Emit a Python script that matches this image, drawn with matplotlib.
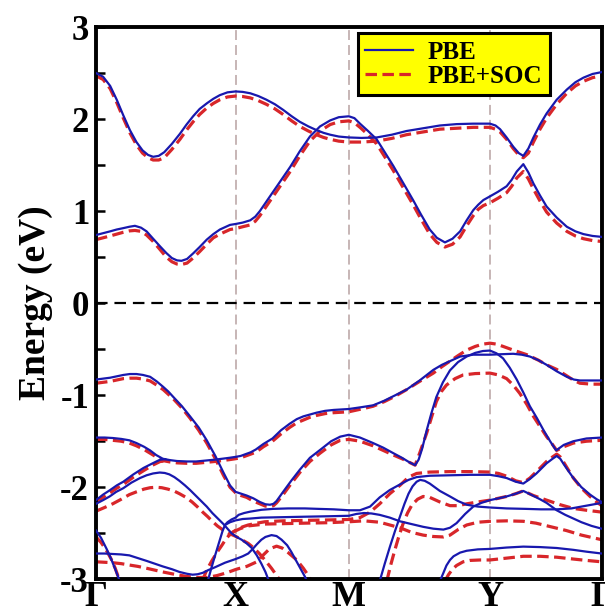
import matplotlib
matplotlib.use("Agg")
import matplotlib.pyplot as plt
from matplotlib.lines import Line2D
from matplotlib.ticker import MultipleLocator

plt.rcParams['font.family'] = ['Liberation Serif', 'DejaVu Serif']
plt.rcParams['font.weight'] = 'bold'
plt.rcParams['axes.unicode_minus'] = False

# ---------------- data ----------------
kpath_pos = [0.0, 0.276, 0.500, 0.779, 1.0]
kpath_labels = ['Γ', 'X', 'M', 'Y', 'Γ']
energy_ticks = [-3, -2, -1, 0, 1, 2, 3]
legend_labels = ['PBE', 'PBE+SOC']

# conduction bands (k, E)
cA_pbe = [(0.000, 2.50), (0.014, 2.46), (0.028, 2.36), (0.041, 2.21), (0.054, 2.04), (0.067, 1.88),
          (0.080, 1.75), (0.092, 1.66), (0.103, 1.61), (0.113, 1.59), (0.124, 1.60), (0.135, 1.64),
          (0.150, 1.73), (0.166, 1.84), (0.179, 1.94), (0.192, 2.03), (0.205, 2.11), (0.219, 2.17),
          (0.232, 2.22), (0.245, 2.26), (0.260, 2.29), (0.276, 2.30), (0.290, 2.295), (0.305, 2.28),
          (0.321, 2.25), (0.337, 2.21), (0.354, 2.16), (0.370, 2.10), (0.387, 2.03), (0.403, 1.97),
          (0.420, 1.92), (0.436, 1.88), (0.450, 1.85), (0.463, 1.83), (0.480, 1.81), (0.500, 1.80),
          (0.525, 1.795), (0.555, 1.80), (0.585, 1.83), (0.614, 1.87), (0.647, 1.90), (0.680, 1.93),
          (0.713, 1.945), (0.746, 1.95), (0.765, 1.95), (0.779, 1.95), (0.790, 1.93), (0.799, 1.89),
          (0.812, 1.80), (0.825, 1.70), (0.836, 1.63), (0.845, 1.60), (0.855, 1.68), (0.865, 1.80),
          (0.878, 1.94), (0.891, 2.06), (0.911, 2.21), (0.931, 2.32), (0.948, 2.40), (0.964, 2.45),
          (0.982, 2.49), (1.000, 2.51)]
cA_soc = [(0.000, 2.47), (0.014, 2.43), (0.028, 2.33), (0.041, 2.18), (0.054, 2.01), (0.067, 1.85),
          (0.080, 1.72), (0.092, 1.63), (0.103, 1.58), (0.113, 1.555), (0.124, 1.555), (0.135, 1.58),
          (0.150, 1.67), (0.166, 1.78), (0.179, 1.88), (0.192, 1.97), (0.205, 2.05), (0.219, 2.12),
          (0.232, 2.17), (0.245, 2.21), (0.260, 2.24), (0.276, 2.25), (0.290, 2.245), (0.305, 2.23),
          (0.321, 2.20), (0.337, 2.16), (0.354, 2.11), (0.370, 2.05), (0.387, 1.98), (0.403, 1.92),
          (0.420, 1.87), (0.436, 1.83), (0.450, 1.80), (0.463, 1.78), (0.480, 1.76), (0.500, 1.75),
          (0.525, 1.75), (0.555, 1.76), (0.585, 1.79), (0.614, 1.83), (0.647, 1.86), (0.680, 1.89),
          (0.713, 1.90), (0.746, 1.91), (0.765, 1.91), (0.779, 1.91), (0.790, 1.89), (0.799, 1.86),
          (0.812, 1.78), (0.825, 1.68), (0.836, 1.61), (0.845, 1.58), (0.855, 1.63), (0.865, 1.75),
          (0.878, 1.89), (0.891, 2.01), (0.911, 2.16), (0.931, 2.28), (0.948, 2.36), (0.964, 2.41),
          (0.982, 2.45), (1.000, 2.47)]
cB_pbe = [(0.000, 0.74), (0.014, 0.76), (0.028, 0.78), (0.041, 0.80), (0.054, 0.815), (0.066, 0.83),
          (0.077, 0.84), (0.089, 0.82), (0.100, 0.78), (0.113, 0.70), (0.127, 0.615), (0.139, 0.545),
          (0.150, 0.49), (0.160, 0.465), (0.169, 0.46), (0.180, 0.48), (0.192, 0.54), (0.205, 0.61),
          (0.219, 0.69), (0.232, 0.75), (0.245, 0.80), (0.265, 0.85), (0.276, 0.86), (0.290, 0.875),
          (0.305, 0.90), (0.315, 0.94), (0.324, 1.00), (0.334, 1.08), (0.344, 1.16), (0.364, 1.32),
          (0.384, 1.48), (0.403, 1.65), (0.423, 1.81), (0.443, 1.92), (0.463, 1.985), (0.480, 2.02),
          (0.500, 2.03), (0.511, 2.01), (0.522, 1.95), (0.538, 1.87), (0.555, 1.78), (0.571, 1.64),
          (0.588, 1.49), (0.607, 1.31), (0.627, 1.12), (0.643, 0.96), (0.660, 0.80), (0.674, 0.71),
          (0.690, 0.66), (0.705, 0.70), (0.720, 0.78), (0.733, 0.90), (0.746, 1.01), (0.756, 1.07),
          (0.766, 1.12), (0.779, 1.16), (0.795, 1.21), (0.812, 1.27), (0.822, 1.34), (0.832, 1.43),
          (0.845, 1.51), (0.855, 1.42), (0.865, 1.30), (0.878, 1.17), (0.891, 1.05), (0.911, 0.93),
          (0.931, 0.83), (0.948, 0.78), (0.964, 0.75), (0.982, 0.73), (1.000, 0.72)]
cB_soc = [(0.000, 0.69), (0.014, 0.71), (0.028, 0.73), (0.041, 0.75), (0.054, 0.77), (0.066, 0.785),
          (0.077, 0.79), (0.089, 0.78), (0.100, 0.74), (0.113, 0.67), (0.127, 0.58), (0.139, 0.50),
          (0.150, 0.45), (0.160, 0.425), (0.169, 0.42), (0.180, 0.435), (0.192, 0.49), (0.205, 0.56),
          (0.219, 0.64), (0.232, 0.71), (0.245, 0.75), (0.265, 0.80), (0.276, 0.81), (0.290, 0.83),
          (0.305, 0.85), (0.315, 0.89), (0.324, 0.95), (0.334, 1.03), (0.344, 1.11), (0.364, 1.27),
          (0.384, 1.43), (0.403, 1.60), (0.423, 1.76), (0.443, 1.87), (0.463, 1.94), (0.480, 1.97),
          (0.500, 1.98), (0.511, 1.96), (0.522, 1.91), (0.538, 1.83), (0.555, 1.73), (0.571, 1.59),
          (0.588, 1.44), (0.607, 1.26), (0.627, 1.07), (0.643, 0.91), (0.660, 0.75), (0.674, 0.66),
          (0.690, 0.61), (0.705, 0.64), (0.720, 0.72), (0.733, 0.84), (0.746, 0.95), (0.756, 1.02),
          (0.766, 1.06), (0.779, 1.09), (0.795, 1.14), (0.812, 1.20), (0.822, 1.27), (0.832, 1.36),
          (0.845, 1.43), (0.855, 1.35), (0.865, 1.24), (0.878, 1.11), (0.891, 0.99), (0.911, 0.87),
          (0.931, 0.78), (0.948, 0.73), (0.964, 0.70), (0.982, 0.68), (1.000, 0.67)]

# valence bands (k, E)
v1_pbe = [(0.000, -0.83), (0.014, -0.82), (0.028, -0.81), (0.041, -0.795), (0.054, -0.78), (0.067, -0.77),
          (0.080, -0.77), (0.093, -0.78), (0.107, -0.80), (0.120, -0.85), (0.133, -0.91), (0.143, -0.96),
          (0.153, -1.02), (0.170, -1.12), (0.186, -1.23), (0.203, -1.35), (0.219, -1.49), (0.236, -1.66),
          (0.252, -1.84), (0.265, -1.98), (0.276, -2.05), (0.287, -2.07), (0.298, -2.09), (0.311, -2.12),
          (0.324, -2.16), (0.335, -2.185), (0.344, -2.19), (0.351, -2.18), (0.357, -2.15), (0.370, -2.05),
          (0.386, -1.93), (0.403, -1.81), (0.423, -1.68), (0.443, -1.595), (0.465, -1.50), (0.483, -1.45),
          (0.500, -1.43), (0.522, -1.46), (0.548, -1.52), (0.568, -1.57), (0.588, -1.63), (0.605, -1.68),
          (0.620, -1.73), (0.631, -1.76), (0.638, -1.70), (0.645, -1.58), (0.654, -1.38), (0.663, -1.20),
          (0.673, -1.02), (0.686, -0.86), (0.700, -0.73), (0.716, -0.64), (0.733, -0.58), (0.750, -0.54),
          (0.765, -0.52), (0.779, -0.515), (0.792, -0.545), (0.805, -0.60), (0.818, -0.70), (0.832, -0.83),
          (0.845, -0.97), (0.858, -1.12), (0.872, -1.25), (0.885, -1.38), (0.898, -1.50), (0.910, -1.60),
          (0.925, -1.54), (0.944, -1.50), (0.970, -1.47), (1.000, -1.46)]
v1_soc = [(0.000, -0.87), (0.014, -0.86), (0.028, -0.85), (0.041, -0.835), (0.054, -0.82), (0.067, -0.815),
          (0.080, -0.815), (0.093, -0.825), (0.107, -0.845), (0.120, -0.89), (0.133, -0.94), (0.143, -0.99),
          (0.153, -1.04), (0.170, -1.14), (0.186, -1.25), (0.203, -1.38), (0.219, -1.52), (0.236, -1.69),
          (0.252, -1.87), (0.265, -2.00), (0.276, -2.06), (0.287, -2.09), (0.298, -2.11), (0.311, -2.15),
          (0.324, -2.18), (0.335, -2.205), (0.344, -2.21), (0.351, -2.20), (0.357, -2.17), (0.370, -2.08),
          (0.386, -1.96), (0.403, -1.84), (0.423, -1.72), (0.443, -1.63), (0.465, -1.54), (0.483, -1.49),
          (0.500, -1.48), (0.522, -1.50), (0.548, -1.55), (0.568, -1.60), (0.588, -1.65), (0.605, -1.69),
          (0.620, -1.73), (0.631, -1.76), (0.640, -1.63), (0.654, -1.41), (0.673, -1.07), (0.683, -0.96),
          (0.693, -0.89), (0.710, -0.82), (0.726, -0.78), (0.750, -0.765), (0.779, -0.76), (0.796, -0.78),
          (0.812, -0.82), (0.825, -0.89), (0.838, -0.98), (0.852, -1.10), (0.865, -1.23), (0.878, -1.34),
          (0.891, -1.45), (0.902, -1.53), (0.911, -1.60), (0.925, -1.56), (0.944, -1.52), (0.970, -1.50),
          (1.000, -1.49)]
v2_pbe = [(0.000, -1.46), (0.017, -1.46), (0.033, -1.465), (0.050, -1.475), (0.066, -1.49), (0.080, -1.52),
          (0.095, -1.56), (0.107, -1.60), (0.119, -1.65), (0.132, -1.69), (0.146, -1.705), (0.160, -1.715),
          (0.180, -1.72), (0.198, -1.72), (0.217, -1.71), (0.235, -1.70), (0.250, -1.69), (0.264, -1.68),
          (0.276, -1.67), (0.286, -1.66), (0.296, -1.64), (0.306, -1.62), (0.316, -1.59), (0.331, -1.53),
          (0.349, -1.47), (0.366, -1.38), (0.383, -1.31), (0.397, -1.26), (0.410, -1.23), (0.423, -1.21),
          (0.436, -1.19), (0.453, -1.17), (0.470, -1.16), (0.485, -1.155), (0.500, -1.15), (0.525, -1.13),
          (0.548, -1.11), (0.570, -1.06), (0.592, -1.00), (0.614, -0.94), (0.640, -0.84), (0.667, -0.725),
          (0.684, -0.67), (0.700, -0.63), (0.720, -0.58), (0.746, -0.56), (0.779, -0.56), (0.800, -0.555),
          (0.825, -0.55), (0.842, -0.56), (0.858, -0.58), (0.875, -0.62), (0.891, -0.67), (0.911, -0.74),
          (0.931, -0.80), (0.945, -0.83), (0.957, -0.84), (0.980, -0.84), (1.000, -0.84)]
v2_soc = [(0.000, -1.48), (0.017, -1.48), (0.033, -1.49), (0.050, -1.50), (0.066, -1.52), (0.080, -1.55),
          (0.095, -1.59), (0.107, -1.63), (0.119, -1.67), (0.132, -1.71), (0.146, -1.725), (0.160, -1.735),
          (0.180, -1.74), (0.198, -1.74), (0.217, -1.73), (0.235, -1.72), (0.250, -1.71), (0.264, -1.70),
          (0.276, -1.69), (0.286, -1.68), (0.296, -1.66), (0.306, -1.64), (0.316, -1.62), (0.331, -1.56),
          (0.349, -1.50), (0.366, -1.42), (0.383, -1.35), (0.397, -1.30), (0.410, -1.27), (0.423, -1.24),
          (0.436, -1.22), (0.453, -1.20), (0.470, -1.19), (0.485, -1.185), (0.500, -1.18), (0.525, -1.15),
          (0.548, -1.12), (0.570, -1.07), (0.592, -1.01), (0.614, -0.94), (0.640, -0.85), (0.667, -0.76),
          (0.684, -0.69), (0.700, -0.63), (0.716, -0.57), (0.733, -0.51), (0.750, -0.47), (0.765, -0.445),
          (0.779, -0.435), (0.792, -0.445), (0.805, -0.47), (0.825, -0.51), (0.852, -0.56), (0.875, -0.62),
          (0.891, -0.67), (0.911, -0.72), (0.931, -0.79), (0.945, -0.84), (0.957, -0.87), (0.980, -0.88),
          (1.000, -0.88)]
s1_pbe = [(0.000, -2.14), (0.014, -2.08), (0.028, -2.03), (0.041, -1.98), (0.054, -1.94), (0.074, -1.86),
          (0.094, -1.79), (0.112, -1.74), (0.127, -1.70), (0.137, -1.695)]
s1_soc = [(0.000, -2.16), (0.014, -2.11), (0.028, -2.06), (0.041, -2.01), (0.054, -1.97), (0.074, -1.89),
          (0.094, -1.82), (0.112, -1.76), (0.127, -1.72), (0.137, -1.715)]
v4_pbe = [(0.000, -2.18), (0.014, -2.14), (0.027, -2.10), (0.040, -2.05), (0.054, -2.01), (0.070, -1.95),
          (0.087, -1.90), (0.100, -1.87), (0.113, -1.85), (0.126, -1.84), (0.136, -1.845), (0.145, -1.86),
          (0.155, -1.89), (0.165, -1.93), (0.176, -1.98), (0.186, -2.03), (0.197, -2.09), (0.208, -2.15),
          (0.219, -2.21), (0.230, -2.28), (0.241, -2.34), (0.252, -2.40), (0.260, -2.45), (0.268, -2.50),
          (0.278, -2.54), (0.288, -2.57), (0.298, -2.61), (0.308, -2.66), (0.318, -2.74), (0.327, -2.83),
          (0.335, -2.92), (0.342, -3.02)]
v4_soc = [(0.000, -2.26), (0.017, -2.22), (0.033, -2.18), (0.050, -2.13), (0.066, -2.08), (0.080, -2.05),
          (0.095, -2.02), (0.107, -2.005), (0.119, -2.00), (0.130, -2.005), (0.142, -2.02), (0.154, -2.04),
          (0.165, -2.07), (0.178, -2.11), (0.190, -2.16), (0.200, -2.21), (0.211, -2.27), (0.221, -2.32),
          (0.230, -2.37), (0.240, -2.42), (0.250, -2.46), (0.262, -2.50), (0.275, -2.53), (0.288, -2.57),
          (0.301, -2.61), (0.312, -2.66), (0.323, -2.72), (0.334, -2.79), (0.347, -2.88), (0.360, -2.98),
          (0.363, -3.02)]
r1_pbe = [(0.221, -3.02), (0.228, -2.88), (0.235, -2.75), (0.240, -2.66), (0.245, -2.57), (0.250, -2.48),
          (0.255, -2.41), (0.260, -2.38), (0.268, -2.35), (0.276, -2.33), (0.282, -2.30), (0.293, -2.28),
          (0.305, -2.265), (0.327, -2.245), (0.350, -2.235), (0.380, -2.23), (0.413, -2.23), (0.440, -2.235),
          (0.470, -2.24), (0.500, -2.25), (0.522, -2.25), (0.542, -2.21), (0.561, -2.11), (0.581, -2.03),
          (0.601, -1.97), (0.618, -1.92), (0.634, -1.89), (0.660, -1.875), (0.700, -1.87), (0.740, -1.865),
          (0.779, -1.865), (0.796, -1.88), (0.812, -1.90), (0.830, -1.94), (0.845, -1.96), (0.858, -1.91),
          (0.871, -1.85), (0.891, -1.74), (0.903, -1.69), (0.911, -1.66), (0.918, -1.69), (0.925, -1.75),
          (0.935, -1.83), (0.944, -1.90), (0.960, -2.00), (0.977, -2.08), (0.990, -2.13), (1.000, -2.16)]
r1_soc = [(0.210, -3.02), (0.219, -2.90), (0.229, -2.80), (0.239, -2.71), (0.249, -2.63), (0.256, -2.57),
          (0.262, -2.53), (0.270, -2.49), (0.278, -2.46), (0.290, -2.43), (0.301, -2.41), (0.318, -2.39),
          (0.334, -2.375), (0.370, -2.365), (0.413, -2.36), (0.460, -2.355), (0.500, -2.35), (0.522, -2.33),
          (0.542, -2.27), (0.561, -2.18), (0.581, -2.07), (0.601, -1.98), (0.618, -1.89), (0.634, -1.85),
          (0.660, -1.835), (0.700, -1.83), (0.740, -1.83), (0.779, -1.835), (0.796, -1.85), (0.812, -1.88),
          (0.830, -1.93), (0.845, -1.95), (0.858, -1.90), (0.871, -1.83), (0.891, -1.72), (0.903, -1.67),
          (0.911, -1.64), (0.918, -1.67), (0.925, -1.73), (0.935, -1.82), (0.944, -1.90), (0.960, -2.01),
          (0.977, -2.10), (0.990, -2.16), (1.000, -2.20)]
f2_pbe = [(0.255, -2.41), (0.265, -2.38), (0.276, -2.36), (0.290, -2.345), (0.305, -2.34), (0.327, -2.33),
          (0.370, -2.325), (0.413, -2.32), (0.460, -2.315), (0.500, -2.31), (0.515, -2.29), (0.530, -2.28),
          (0.545, -2.285), (0.561, -2.30), (0.581, -2.33), (0.601, -2.37), (0.624, -2.40), (0.647, -2.43),
          (0.667, -2.45), (0.687, -2.46), (0.700, -2.44), (0.713, -2.39), (0.730, -2.29), (0.746, -2.21),
          (0.762, -2.17), (0.779, -2.14), (0.796, -2.12), (0.812, -2.10), (0.830, -2.07), (0.845, -2.04),
          (0.860, -2.08), (0.878, -2.13), (0.891, -2.17), (0.911, -2.25), (0.928, -2.30), (0.944, -2.34),
          (0.960, -2.38), (0.980, -2.42), (1.000, -2.45)]
f2_soc = [(0.270, -2.49), (0.285, -2.45), (0.301, -2.42), (0.334, -2.40), (0.413, -2.39), (0.460, -2.385),
          (0.500, -2.375), (0.530, -2.365), (0.561, -2.38), (0.581, -2.41), (0.601, -2.44), (0.624, -2.49),
          (0.647, -2.52), (0.667, -2.535), (0.687, -2.54), (0.700, -2.52), (0.716, -2.46), (0.733, -2.41),
          (0.755, -2.38), (0.779, -2.37), (0.812, -2.365), (0.845, -2.37), (0.870, -2.39), (0.900, -2.43),
          (0.930, -2.47), (0.960, -2.52), (1.000, -2.57)]
l3_pbe = [(0.561, -3.02), (0.571, -2.83), (0.581, -2.65), (0.591, -2.48), (0.601, -2.32), (0.610, -2.18),
          (0.618, -2.07), (0.626, -1.99), (0.634, -1.94), (0.641, -1.92), (0.650, -1.93), (0.660, -1.96),
          (0.670, -2.00), (0.680, -2.04), (0.690, -2.07), (0.700, -2.10), (0.716, -2.15), (0.733, -2.19),
          (0.755, -2.21), (0.779, -2.22), (0.812, -2.23), (0.850, -2.235), (0.880, -2.24), (0.911, -2.24),
          (0.940, -2.23), (0.970, -2.20), (1.000, -2.17)]
l3_soc = [(0.575, -3.02), (0.583, -2.84), (0.590, -2.70), (0.598, -2.55), (0.607, -2.40), (0.616, -2.28),
          (0.625, -2.19), (0.636, -2.13), (0.647, -2.10), (0.660, -2.11), (0.680, -2.16), (0.700, -2.20),
          (0.716, -2.20), (0.733, -2.18), (0.755, -2.16), (0.779, -2.14), (0.812, -2.10), (0.830, -2.07),
          (0.845, -2.04), (0.865, -2.09), (0.891, -2.14), (0.918, -2.19), (0.944, -2.23), (0.970, -2.25),
          (1.000, -2.27)]
l4_pbe = [(0.680, -3.02), (0.687, -2.93), (0.693, -2.85), (0.700, -2.79), (0.707, -2.75), (0.720, -2.71),
          (0.733, -2.69), (0.755, -2.675), (0.779, -2.67), (0.812, -2.655), (0.845, -2.645), (0.878, -2.65),
          (0.911, -2.66), (0.944, -2.68), (0.970, -2.70), (1.000, -2.72)]
l4_soc = [(0.690, -3.02), (0.697, -2.95), (0.705, -2.89), (0.713, -2.85), (0.726, -2.81), (0.739, -2.795),
          (0.760, -2.79), (0.779, -2.79), (0.812, -2.77), (0.845, -2.75), (0.878, -2.75), (0.911, -2.76),
          (0.944, -2.78), (0.970, -2.795), (1.000, -2.81)]
g1_pbe = [(0.000, -2.47), (0.010, -2.55), (0.021, -2.67), (0.030, -2.78), (0.038, -2.89), (0.047, -3.02)]
g1_soc = [(0.000, -2.54), (0.010, -2.60), (0.020, -2.68), (0.030, -2.78), (0.038, -2.88), (0.047, -3.02)]
l5_pbe = [(0.000, -2.72), (0.017, -2.72), (0.033, -2.725), (0.050, -2.73), (0.066, -2.74), (0.083, -2.77),
          (0.100, -2.80), (0.116, -2.83), (0.132, -2.86), (0.150, -2.89), (0.165, -2.92), (0.180, -2.94),
          (0.191, -2.95), (0.201, -2.945), (0.211, -2.93), (0.222, -2.90), (0.235, -2.87), (0.255, -2.82),
          (0.276, -2.78), (0.290, -2.75), (0.301, -2.72), (0.310, -2.67), (0.318, -2.62), (0.327, -2.57),
          (0.335, -2.54), (0.347, -2.52), (0.357, -2.53), (0.367, -2.57), (0.378, -2.63), (0.386, -2.70),
          (0.393, -2.77), (0.403, -2.87), (0.413, -2.97), (0.417, -3.02)]
l5_soc = [(0.000, -2.81), (0.017, -2.815), (0.033, -2.82), (0.050, -2.83), (0.066, -2.845), (0.083, -2.86),
          (0.100, -2.88), (0.116, -2.90), (0.132, -2.92), (0.150, -2.94), (0.165, -2.955), (0.180, -2.97),
          (0.200, -2.98), (0.220, -2.98), (0.239, -2.96), (0.258, -2.93), (0.278, -2.89), (0.298, -2.86),
          (0.318, -2.81), (0.330, -2.74), (0.343, -2.67), (0.357, -2.64), (0.368, -2.66), (0.380, -2.71),
          (0.397, -2.79), (0.410, -2.88), (0.420, -2.96), (0.426, -3.02)]

pbe_bands = [cA_pbe, cB_pbe, v1_pbe, v2_pbe, s1_pbe, v4_pbe, r1_pbe, f2_pbe, l3_pbe, l4_pbe, g1_pbe, l5_pbe]
soc_bands = [cA_soc, cB_soc, v1_soc, v2_soc, s1_soc, v4_soc, r1_soc, f2_soc, l3_soc, l4_soc, g1_soc, l5_soc]

# ---------------- style ----------------
BLUE = '#1818ae'
RED = '#d8262a'
SOC_DASH = (3.6, 1.7)

fig = plt.figure(figsize=(6.05, 6.06), dpi=100)
ax = fig.add_axes([96 / 605, 26.7 / 606, 505.7 / 605, 552.3 / 606])

for x in kpath_pos[1:-1]:
    ax.axvline(x, color='#b8a2a2', lw=1.1, dashes=(6.5, 3.3), zorder=1)
ax.axhline(0, color='black', lw=1.6, dashes=(5.2, 3.1), zorder=1)

for band in soc_bands:
    k, e = zip(*band)
    ax.plot(k, e, color=RED, lw=2.3, dashes=SOC_DASH, dash_capstyle='butt', zorder=2)
for band in pbe_bands:
    k, e = zip(*band)
    ax.plot(k, e, color=BLUE, lw=1.6, solid_joinstyle='round', zorder=3)

ax.set_xlim(kpath_pos[0], kpath_pos[-1])
ax.set_ylim(-3, 3)
ax.set_xticks(kpath_pos)
ax.set_xticklabels(kpath_labels, fontsize=26, fontweight='bold')
ax.tick_params(axis='x', length=0, pad=1)
ax.set_yticks(energy_ticks)
ax.set_yticklabels([str(t) for t in energy_ticks], fontsize=25, fontweight='bold')
ax.yaxis.set_minor_locator(MultipleLocator(0.5))
ax.tick_params(axis='y', which='both', direction='in', length=6.5, width=1.8, pad=5, right=False)
for s in ax.spines.values():
    s.set_linewidth(2.8)

ax.set_ylabel('Energy (eV)', fontsize=27, fontweight='bold')
ax.yaxis.set_label_coords(-0.085, 0.5)

handles = [Line2D([], [], color=BLUE, lw=1.6),
           Line2D([], [], color=RED, lw=2.3, dashes=SOC_DASH)]
leg = ax.legend(handles, legend_labels, loc='upper left', bbox_to_anchor=(0.518, 0.989),
                prop={'weight': 'bold', 'size': 18}, frameon=True, fancybox=False,
                facecolor='#ffff00', edgecolor='black', framealpha=1, handlelength=1.9,
                handletextpad=0.6, borderpad=0.3, labelspacing=0.05, borderaxespad=0)
leg.get_frame().set_linewidth(2.2)
leg.set_zorder(5)

fig.savefig('out.png', dpi=100)
